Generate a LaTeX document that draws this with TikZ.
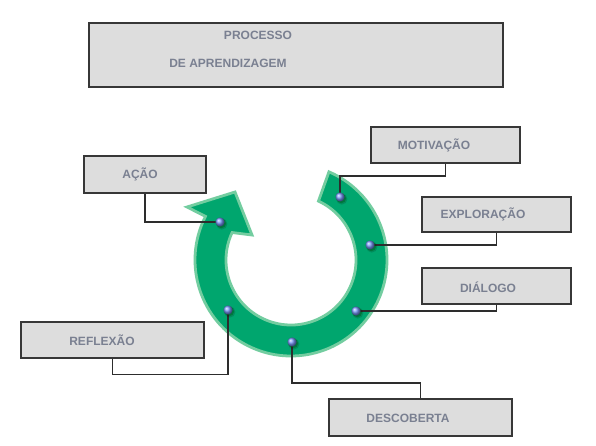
\documentclass[tikz,border=0pt]{standalone}
\usepackage{fontspec}
\setmainfont{Liberation Sans}
\definecolor{ringgreen}{RGB}{0,166,110}
\definecolor{ringedge}{RGB}{115,205,160}
\definecolor{boxfill}{RGB}{221,221,221}
\definecolor{boxline}{RGB}{55,55,55}
\definecolor{labeltext}{RGB}{122,128,145}
\definecolor{linkc}{RGB}{45,45,45}
\definecolor{dotblue}{RGB}{120,150,245}
\tikzset{
  labelbox/.style={draw=boxline, line width=1.1pt, fill=boxfill, rectangle, inner sep=0pt},
  boxtext/.style={text=labeltext, font=\bfseries\fontsize{12}{14}\selectfont, inner sep=0pt, anchor=center},
  link/.style={draw=linkc, line width=1.1pt},
  dotnode/.style={circle, inner sep=0pt, minimum size=9pt},
}
\newcommand{\ballat}[2]{%
  \fill[black, opacity=0.15] ($(#1)+(1.8,2.0)$) circle (5.6);
  \fill[black!70!green, opacity=0.35] ($(#1)+(1.3,1.4)$) circle (4.8);
  \shade[ball color=dotblue] (#1) circle (4.6);
  \node[dotnode] (#2) at (#1) {};
}
\usetikzlibrary{calc}
\begin{document}
\begin{tikzpicture}[x=1pt,y=-1pt]
\useasboundingbox (0,0) rectangle (596,446);
\fill[white] (0,0) rectangle (596,446);

% title box
\node[labelbox, minimum width=414pt, minimum height=64pt] (title) at (296,55) {};
\node[boxtext] (t1) at (258,35) {PROCESSO};
\node[boxtext] (t2) at (228,63) {DE APRENDIZAGEM};

% ring arrow
\coordinate (c) at (291,260);
\draw[fill=ringgreen, draw=ringedge, line width=2.8pt, line join=miter]
  ($(c)+(-153:96)$) arc[start angle=-153, end angle=-426.7, radius=96]
  -- ($(c)+(-425:65)$) arc[start angle=-425, end angle=-155, radius=65]
  -- (252,235) -- (235,192) -- (187,207) -- cycle;

% boxes
\node[labelbox, minimum width=122pt, minimum height=37pt] (acao) at (145,174.5) {};
\node[boxtext] at (140,174) {AÇÃO};
\node[labelbox, minimum width=183pt, minimum height=36pt] (refl) at (112.5,340) {};
\node[boxtext] at (102,340) {REFLEXÃO};
\node[labelbox, minimum width=149pt, minimum height=36pt] (motiv) at (445.5,145) {};
\node[boxtext] at (434,145) {MOTIVAÇÃO};
\node[labelbox, minimum width=149pt, minimum height=35pt] (explo) at (496.5,214.5) {};
\node[boxtext] at (483,214) {EXPLORAÇÃO};
\node[labelbox, minimum width=149pt, minimum height=36pt] (dial) at (496.5,286) {};
\node[boxtext] at (488,287) {DIÁLOGO};
\node[labelbox, minimum width=183pt, minimum height=37pt] (desc) at (420.5,417.5) {};
\node[boxtext] at (408,418) {DESCOBERTA};

% connectors (drawn under the dots)
\coordinate (p1) at (220,222);
\coordinate (p2) at (228,310);
\coordinate (p3) at (292,342);
\coordinate (p4) at (356,311);
\coordinate (p5) at (370,245);
\coordinate (p6) at (340,197);
\draw[link] (acao.south) |- (p1);
\draw[link] (refl.south) -- ++(0,16) -| (p2);
\draw[link] (p3) -- ++(0,41) -| (desc.north);
\draw[link] (p4) -| (dial.south);
\draw[link] (p5) -| (explo.south);
\draw[link] (p6) -- ++(0,-21) -| (motiv.south);

% dots
\ballat{p1}{d1}
\ballat{p2}{d2}
\ballat{p3}{d3}
\ballat{p4}{d4}
\ballat{p5}{d5}
\ballat{p6}{d6}
\end{tikzpicture}
\end{document}
